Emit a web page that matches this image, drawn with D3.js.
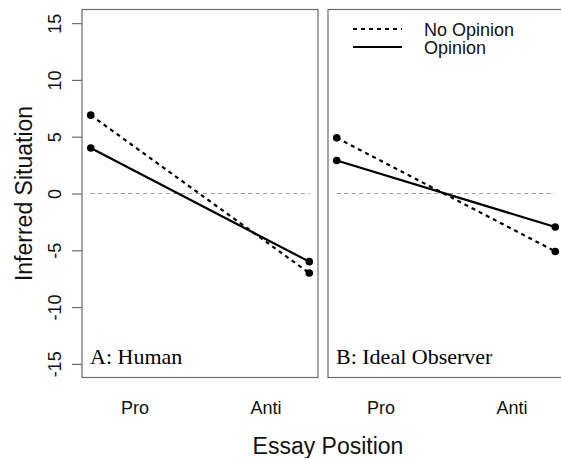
<!DOCTYPE html>
<html>
<head>
<meta charset="utf-8">
<script src="https://cdn.jsdelivr.net/npm/d3@7"></script>
<style>
  body { margin: 0; background: #fff; }
  svg { display: block; font-family: 'Liberation Sans', Arial, sans-serif; }
</style>
</head>
<body>
<div id="chart_svg"></div>
<script>
// categories on x and where their labels sit
const categories = ['Pro', 'Anti']
const catX = [1, 2]
const labelX = [1.2, 1.8]
const yTicks = [-15, -10, -5, 0, 5, 10, 15]

// values
const humanNoOpinion = [6.9, -7.0]
const humanOpinion = [4.0, -6.0]
const idealNoOpinion = [4.9, -5.1]
const idealOpinion = [2.9, -2.95]

const legends = ['No Opinion', 'Opinion']

class PanelChart {
  constructor(args) {
    const def = {
      el: '#chart_svg',
      width: 561,
      height: 458,
      top: 9.5,
      bottom: 377.5,
      panelW: 236,
      panels: [
        { x0: 82, label: 'A: Human', noOp: humanNoOpinion, op: humanOpinion, yAxis: true },
        { x0: 328, label: 'B: Ideal Observer', noOp: idealNoOpinion, op: idealOpinion, yAxis: false }
      ]
    }
    const vis = this
    Object.assign(def, args)
    Object.assign(vis, def)
    vis.initVis()
    vis.panels.forEach(p => vis.drawPanel(p))
    vis.drawLegend()
    vis.drawTitles()
  }

  initVis() {
    const vis = this
    vis.svg = d3
      .select(vis.el)
      .append('svg')
      .attr('width', vis.width)
      .attr('height', vis.height)
    // ylim c(-15,15) with the usual 4% padding
    vis.yScale = d3.scaleLinear().domain([-16.2, 16.2]).range([vis.bottom, vis.top])
  }

  get line() {
    const vis = this
    return d3
      .line()
      .x((d, i) => vis.xScale(catX[i]))
      .y(d => vis.yScale(d))
  }

  drawPanel(p) {
    const vis = this
    vis.xScale = d3.scaleLinear().domain([0.96, 2.04]).range([p.x0, p.x0 + vis.panelW])
    const g = vis.svg.append('g')

    // zero reference
    g.append('line')
      .attr('x1', vis.xScale(catX[0]))
      .attr('x2', vis.xScale(catX[1]))
      .attr('y1', vis.yScale(0))
      .attr('y2', vis.yScale(0))
      .attr('stroke', '#9a9a9a')
      .attr('stroke-width', 1.2)
      .attr('stroke-dasharray', '4,3.5')

    const series = [
      { vals: p.noOp, dash: '4,4' },
      { vals: p.op, dash: null }
    ]
    series.forEach(s => {
      g.append('path')
        .datum(s.vals)
        .attr('d', vis.line)
        .attr('fill', 'none')
        .attr('stroke', '#000')
        .attr('stroke-width', 2.2)
        .attr('stroke-dasharray', s.dash)
      g.selectAll(null)
        .data(s.vals)
        .enter()
        .append('circle')
        .attr('cx', (d, i) => vis.xScale(catX[i]))
        .attr('cy', d => vis.yScale(d))
        .attr('r', 3.8)
        .attr('fill', '#000')
    })

    // box
    g.append('rect')
      .attr('x', p.x0)
      .attr('y', vis.top)
      .attr('width', vis.panelW)
      .attr('height', vis.bottom - vis.top)
      .attr('fill', 'none')
      .attr('stroke', '#6b6b6b')
      .attr('stroke-width', 1.2)

    // x labels (no ticks)
    const xAxis = g
      .append('g')
      .attr('transform', `translate(0,${vis.bottom})`)
      .call(
        d3.axisBottom(vis.xScale)
          .tickValues(labelX)
          .tickSize(0)
          .tickPadding(0)
          .tickFormat((d, i) => categories[i])
      )
    xAxis.select('.domain').remove()
    xAxis.selectAll('text')
      .attr('dy', null)
      .attr('y', 414 - vis.bottom)
      .attr('font-size', 18)
      .attr('font-family', 'Liberation Sans, Arial, sans-serif')
      .attr('fill', '#111')

    if (p.yAxis) {
      const yAxis = g
        .append('g')
        .attr('transform', `translate(${p.x0},0)`)
        .call(d3.axisLeft(vis.yScale).tickValues(yTicks).tickSize(10).tickFormat(d => String(d)))
      yAxis.select('.domain').remove()
      yAxis.selectAll('line').attr('stroke', '#6b6b6b').attr('stroke-width', 1.2)
      yAxis.selectAll('text')
        .attr('x', null)
        .attr('dy', null)
        .attr('transform', 'translate(-21,0) rotate(-90)')
        .attr('text-anchor', 'middle')
        .attr('font-size', 18)
        .attr('font-family', 'Liberation Sans, Arial, sans-serif')
        .attr('fill', '#111')
    }

    g.append('text')
      .attr('x', p.x0 + 8)
      .attr('y', 364)
      .attr('font-family', 'Liberation Serif, Times New Roman, serif')
      .attr('font-size', 22)
      .attr('fill', '#000')
      .text(p.label)
  }

  drawLegend() {
    const vis = this
    const lg = vis.svg.append('g')
    legends.forEach((name, i) => {
      const y = 29 + i * 18
      lg.append('line')
        .attr('x1', 353)
        .attr('x2', 402)
        .attr('y1', y)
        .attr('y2', y)
        .attr('stroke', '#000')
        .attr('stroke-width', 2.2)
        .attr('stroke-dasharray', i === 0 ? '4,4' : null)
      lg.append('text')
        .attr('x', 424)
        .attr('y', y + 6.5)
        .attr('font-size', 18)
        .attr('fill', '#111')
        .text(name)
    })
  }

  drawTitles() {
    const vis = this
    vis.svg.append('text')
      .attr('x', 328)
      .attr('y', 454)
      .attr('text-anchor', 'middle')
      .attr('font-size', 23)
      .attr('fill', '#111')
      .text('Essay Position')
    vis.svg.append('text')
      .attr('transform', `translate(32,${(vis.top + vis.bottom) / 2}) rotate(-90)`)
      .attr('text-anchor', 'middle')
      .attr('font-size', 23)
      .attr('fill', '#111')
      .text('Inferred Situation')
  }
}

new PanelChart()
</script>
</body>
</html>
